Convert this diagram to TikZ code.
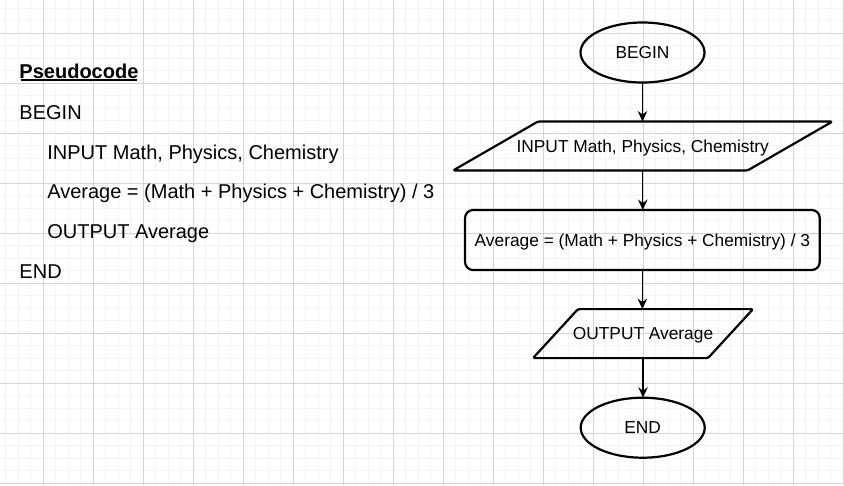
\documentclass[tikz,border=0pt]{standalone}
\usepackage{fontspec}
\setmainfont{Liberation Sans}
\usetikzlibrary{shapes.geometric,arrows.meta}
\definecolor{gridminor}{RGB}{244,244,244}
\definecolor{gridmajor}{RGB}{212,212,212}
\begin{document}
\begin{tikzpicture}[x=1pt,y=-1pt,
  shapeline/.style={line width=2.2pt, line join=round},
  flowtext/.style={font=\fontsize{17.33}{20}\selectfont, text height=12.4pt, text depth=0pt, inner sep=0pt, outer sep=0pt},
  term/.style={flowtext, ellipse, draw, shapeline, minimum width=124pt, minimum height=60pt},
  procbox/.style={flowtext, rectangle, draw, shapeline, rounded corners=8pt, minimum width=354.7pt, minimum height=60pt},
  iobox/.style={flowtext, rectangle, minimum height=49pt},
  iopath/.style={shapeline, rounded corners=1.5pt},
  codetext/.style={font=\fontsize{20}{24}\selectfont, anchor=base west, inner sep=0pt, outer sep=0pt},
  arr/.style={line width=1.1pt, -{Stealth[length=10.5pt,width=9.5pt,inset=3.5pt]}},
]
% background and grid
\fill[white] (0,0) rectangle (844,485);
\useasboundingbox (0,0) rectangle (844,485);
\foreach \x in {5.8,18.3,...,844} \draw[gridminor, line width=1pt] (\x,0) -- (\x,485);
\foreach \y in {8.3,20.8,...,485} \draw[gridminor, line width=1pt] (0,\y) -- (844,\y);
\foreach \x in {43.3,93.3,...,844} \draw[gridmajor, line width=1pt] (\x,0) -- (\x,485);
\foreach \y in {33.3,83.3,...,485} \draw[gridmajor, line width=1pt] (0,\y) -- (844,\y);

% pseudocode
\node[codetext, font=\fontsize{20}{24}\selectfont\bfseries] (ptitle) at (19.5,78.8) {Pseudocode};
\draw[line width=1.7pt] ([xshift=1pt,yshift=-1.3pt]ptitle.base west) -- ([xshift=-1pt,yshift=-1.3pt]ptitle.base east);
\node[codetext] (pbegin) at (19.5,119.2) {BEGIN};
\node[codetext] (pinput) at (47.4,159) {INPUT Math, Physics, Chemistry};
\node[codetext] (pavg) at (47.3,198.7) {Average = (Math + Physics + Chemistry) / 3};
\node[codetext] (poutput) at (47.3,238.5) {OUTPUT Average};
\node[codetext] (pend) at (19.5,278.3) {END};

% flowchart
\node[term] (start) at (642.5,52.5) {BEGIN};
\node[iobox, minimum width=294.5pt] (inbox) at (642.75,146) {INPUT Math, Physics, Chemistry};
\draw[iopath] ([xshift=42.5pt]inbox.north west) -- ([xshift=42.5pt]inbox.north east) -- ([xshift=-42.5pt]inbox.south east) -- ([xshift=-42.5pt]inbox.south west) -- cycle;
\node[procbox] (proc) at (642.4,240) {Average = (Math + Physics + Chemistry) / 3};
\node[iobox, minimum width=175pt] (outbox) at (643,333.6) {OUTPUT Average};
\draw[iopath] ([xshift=22.5pt]outbox.north west) -- ([xshift=22.5pt]outbox.north east) -- ([xshift=-22.5pt]outbox.south east) -- ([xshift=-22.5pt]outbox.south west) -- cycle;
\node[term] (stop) at (642.7,427.7) {END};

\draw[arr] (start.south) -- (start.south |- inbox.north);
\draw[arr] (inbox.south) -- (inbox.south |- proc.north);
\draw[arr] (proc.south) -- (proc.south |- outbox.north);
\draw[arr] (outbox.south) -- (outbox.south |- stop.north);
\end{tikzpicture}
\end{document}
